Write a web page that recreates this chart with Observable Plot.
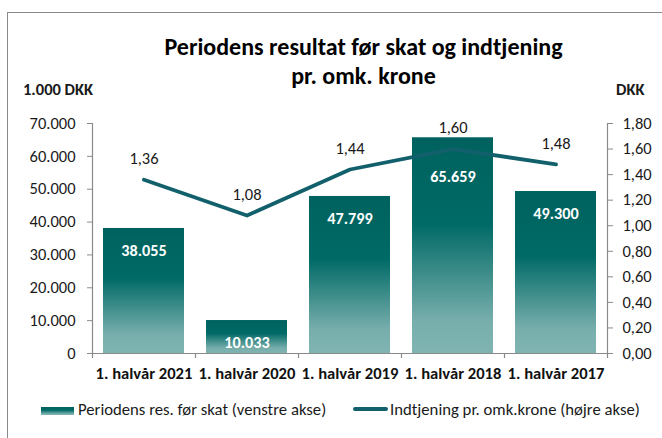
<!DOCTYPE html>
<html><head><meta charset="utf-8">
<script src="https://cdn.jsdelivr.net/npm/d3@7"></script>
<script src="https://cdn.jsdelivr.net/npm/@observablehq/plot@0.6"></script>
<style>
body{margin:0;background:#fff;font-family:Carlito,Lato,sans-serif;color:#1a1a1a}
#wrap{position:relative;width:662px;height:438px;overflow:hidden;background:#fff}
#frame{position:absolute;left:7px;top:12px;width:1000px;height:1000px;border:1.5px solid #8a8a8a}
.t{position:absolute;white-space:nowrap;line-height:1}
#chart{position:absolute;left:0;top:0}
</style>
</head><body>
<div id="wrap">
  <div id="frame"></div>
  <div id="chart"></div>
  <div class="t" id="title1" style="left:0;width:727px;text-align:center;top:35px;font-size:24px;font-weight:bold;color:#000">Periodens resultat før skat og indtjening</div>
  <div class="t" id="title2" style="left:0;width:727px;text-align:center;top:64px;font-size:24px;font-weight:bold;color:#000">pr. omk. krone</div>
  <div class="t" style="left:23px;top:81px;font-size:16.5px;font-weight:bold">1.000 DKK</div>
  <div class="t" style="left:616px;top:81px;font-size:16.5px;font-weight:bold">DKK</div>
  <div id="legend"></div>
</div>
<script>
// ---- data ----
const categories = ["1. halvår 2021", "1. halvår 2020", "1. halvår 2019", "1. halvår 2018", "1. halvår 2017"];
const results = [38055, 10033, 47799, 65659, 49300];          // 1.000 DKK (venstre akse)
const earnings = [1.36, 1.08, 1.44, 1.60, 1.48];               // DKK (højre akse)
const leftTicks = [0, 10000, 20000, 30000, 40000, 50000, 60000, 70000];
const rightTicks = [0, 0.2, 0.4, 0.6, 0.8, 1.0, 1.2, 1.4, 1.6, 1.8];
const seriesNames = ["Periodens res. før skat (venstre akse)", "Indtjening pr. omk.krone (højre akse)"];

const barTop = "#00625e", barBottom = "#7fb4b2", lineColor = "#12606c", axisColor = "#8a8a8a", textColor = "#1a1a1a";

const locale = d3.formatLocale({decimal: ",", thousands: ".", grouping: [3], currency: ["", " DKK"]});
const fmtInt = locale.format(",.0f");
const fmt2 = locale.format(",.2f");

const leftMax = d3.max(leftTicks), rightMax = d3.max(rightTicks);
const ratio = leftMax / rightMax;

const data = categories.map((c, i) => ({cat: c, value: results[i], rate: earnings[i], rateY: earnings[i] * ratio}));
// bar labels collide with the line when the line passes just under the bar top
const collide = d => d.rateY < d.value && d.value - d.rateY < 8000;

const W = 662, H = 438, mL = 92, mR = 55, mT = 123, mB = 85;
const step = (W - mL - mR) / categories.length;
const plotH = H - mT - mB;

function defs() {
  const ns = "http://www.w3.org/2000/svg";
  const d = document.createElementNS(ns, "defs");
  d.innerHTML = `
    <linearGradient id="barGrad" x1="0" y1="0" x2="0" y2="1">
      <stop offset="0" stop-color="${barTop}"/>
      <stop offset="0.4" stop-color="#006a66"/>
      <stop offset="0.85" stop-color="#77aeac"/>
      <stop offset="1" stop-color="${barBottom}"/>
    </linearGradient>
    <filter id="shadow" x="-10%" y="-10%" width="130%" height="120%">
      <feDropShadow dx="2.5" dy="0.5" stdDeviation="1.2" flood-color="#000" flood-opacity="0.22"/>
    </filter>`;
  return d;
}

const chart = Plot.plot({
  width: W, height: H,
  marginLeft: mL, marginRight: mR, marginTop: mT, marginBottom: mB,
  style: {fontFamily: "Carlito, Lato, sans-serif", fontSize: "16.5px", color: textColor, background: "transparent"},
  x: {type: "band", domain: categories, paddingInner: 0.21, paddingOuter: 0.105, align: 0.5},
  y: {domain: [0, leftMax]},
  marks: [
    defs,
    Plot.barY(data, {x: "cat", y: "value", fill: "url(#barGrad)", style: "filter:url(#shadow)"}),
    // axes lines and category boundary ticks
    Plot.ruleY([0], {stroke: axisColor, strokeWidth: 1.2}),
    Plot.ruleX([categories[0]], {x: d => d, dx: -step / 2, stroke: axisColor, strokeWidth: 1.2, insetBottom: -5}),
    Plot.ruleX([categories[categories.length - 1]], {x: d => d, dx: step / 2, stroke: axisColor, strokeWidth: 1.2, insetBottom: -5}),
    Plot.ruleX(categories.slice(1), {x: d => d, dx: -step / 2, stroke: axisColor, strokeWidth: 1.2, insetTop: plotH, insetBottom: -5}),
    Plot.axisY({anchor: "left", ticks: leftTicks, tickSize: 5, tickPadding: 12, tickFormat: fmtInt, stroke: axisColor, fill: textColor, label: null, fontSize: 16.5}),
    Plot.axisY({anchor: "right", ticks: rightTicks.map(v => v * ratio), tickSize: 5, tickPadding: 10, tickFormat: d => fmt2(d / ratio), stroke: axisColor, fill: textColor, label: null, fontSize: 16.5}),
    Plot.axisX({tickSize: 0, tickPadding: 14, fontWeight: "bold", fill: "#111", label: null, fontSize: 16.6}),
    // line
    Plot.line(data, {x: "cat", y: "rateY", stroke: lineColor, strokeWidth: 3.8, strokeLinejoin: "round", strokeLinecap: "round"}),
    Plot.text(data, {x: "cat", y: "rateY", text: d => fmt2(d.rate), dy: -21, fill: textColor, fontSize: 16.5}),
    // bar value labels
    Plot.text(data.filter(d => !collide(d)), {x: "cat", y: "value", text: d => fmtInt(d.value), dy: 22, fill: "#fff", fontWeight: "bold", fontSize: 16.2}),
    Plot.text(data.filter(collide), {x: "cat", y: "rateY", text: d => fmtInt(d.value), dy: 28, fill: "#fff", fontWeight: "bold", fontSize: 16.2})
  ]
});
document.getElementById("chart").append(chart);

// legend
const lg = document.getElementById("legend");
lg.innerHTML = `
  <div style="position:absolute;left:41px;top:407px;width:33px;height:8px;background:linear-gradient(${barTop},#006a66 40%,#77aeac 85%,${barBottom})"></div>
  <div class="t" style="left:78px;top:401px;font-size:16.7px;color:${textColor}">${seriesNames[0]}</div>
  <div style="position:absolute;left:353px;top:407px;width:35px;height:4px;border-radius:2px;background:${lineColor}"></div>
  <div class="t" style="left:390px;top:401px;font-size:16.7px;color:${textColor}">${seriesNames[1]}</div>`;
</script></body></html>
